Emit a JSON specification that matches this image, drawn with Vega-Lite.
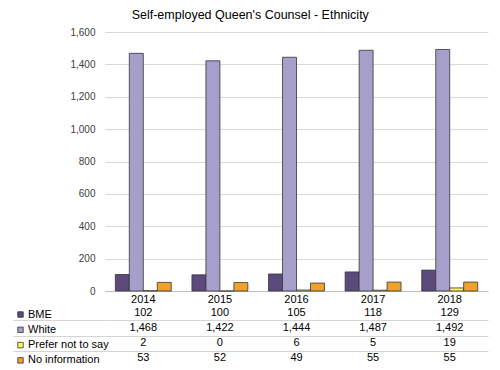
{
  "$schema": "https://vega.github.io/schema/vega-lite/v6.json",
  "padding": {"left": 12, "top": 8, "right": 10, "bottom": 0},
  "background": "white",
  "config": {"font": "Liberation Sans", "view": {"stroke": null}},
  "spacing": 1,
  "datasets": {
    "d": [
      {"year": "2014", "series": "BME", "value": 102},
      {"year": "2015", "series": "BME", "value": 100},
      {"year": "2016", "series": "BME", "value": 105},
      {"year": "2017", "series": "BME", "value": 118},
      {"year": "2018", "series": "BME", "value": 129},
      {"year": "2014", "series": "White", "value": 1468},
      {"year": "2015", "series": "White", "value": 1422},
      {"year": "2016", "series": "White", "value": 1444},
      {"year": "2017", "series": "White", "value": 1487},
      {"year": "2018", "series": "White", "value": 1492},
      {"year": "2014", "series": "Prefer not to say", "value": 2},
      {"year": "2015", "series": "Prefer not to say", "value": 0},
      {"year": "2016", "series": "Prefer not to say", "value": 6},
      {"year": "2017", "series": "Prefer not to say", "value": 5},
      {"year": "2018", "series": "Prefer not to say", "value": 19},
      {"year": "2014", "series": "No information", "value": 53},
      {"year": "2015", "series": "No information", "value": 52},
      {"year": "2016", "series": "No information", "value": 49},
      {"year": "2017", "series": "No information", "value": 55},
      {"year": "2018", "series": "No information", "value": 55}
    ]
  },
  "title": {"text": "Self-employed Queen's Counsel - Ethnicity", "fontSize": 12.5, "fontWeight": "normal", "color": "#000", "anchor": "middle", "offset": 6},
  "vconcat": [
    {
      "width": 383,
      "height": 259,
      "data": {"name": "d"},
      "mark": {"type": "bar", "stroke": "#333", "strokeWidth": 0.8},
      "encoding": {
        "x": {"field": "year", "type": "ordinal", "scale": {"paddingInner": 0.27, "paddingOuter": 0.135},
          "axis": {"title": null, "labelAngle": 0, "ticks": false, "domainColor": "#bfbfbf", "labelFontSize": 11, "labelColor": "#000", "labelPadding": 2}},
        "xOffset": {"field": "series", "type": "nominal", "sort": ["BME", "White", "Prefer not to say", "No information"], "scale": {"paddingInner": 0, "paddingOuter": 0}},
        "y": {"field": "value", "type": "quantitative", "scale": {"domain": [0, 1600]},
          "axis": {"title": null, "values": [0, 200, 400, 600, 800, 1000, 1200, 1400, 1600], "format": ",d", "domain": false, "ticks": false, "labelPadding": 10, "gridColor": "#d9d9d9", "labelFontSize": 10, "labelColor": "#404040"}},
        "color": {"field": "series", "type": "nominal", "sort": ["BME", "White", "Prefer not to say", "No information"],
          "scale": {"domain": ["BME", "White", "Prefer not to say", "No information"], "range": ["#5c4a7d", "#a69fcb", "#fff45a", "#f0a22e"]},
          "legend": {"orient": "none", "legendX": -90, "legendY": 277, "title": null, "symbolType": "square", "symbolSize": 30, "symbolStrokeColor": "#333", "symbolStrokeWidth": 0.8, "labelFontSize": 11, "labelColor": "#000", "rowPadding": 3.3, "labelOffset": 2, "padding": 0}}
      }
    },
    {
      "width": 383,
      "height": 61,
      "data": {"name": "d"},
      "mark": {"type": "text", "fontSize": 11, "color": "#000"},
      "encoding": {
        "x": {"field": "year", "type": "ordinal", "axis": null},
        "y": {"field": "series", "type": "nominal", "sort": ["BME", "White", "Prefer not to say", "No information"],
          "scale": {"type": "band", "paddingInner": 0, "paddingOuter": 0},
          "axis": {"title": null, "labels": false, "domain": false, "values": ["White", "Prefer not to say", "No information"], "tickBand": "center", "tickOffset": -7.625, "tickSize": 92, "tickColor": "#d4d4d4", "grid": true, "gridColor": "#d4d4d4"}},
        "text": {"field": "value", "type": "quantitative", "format": ","}
      }
    }
  ]
}
